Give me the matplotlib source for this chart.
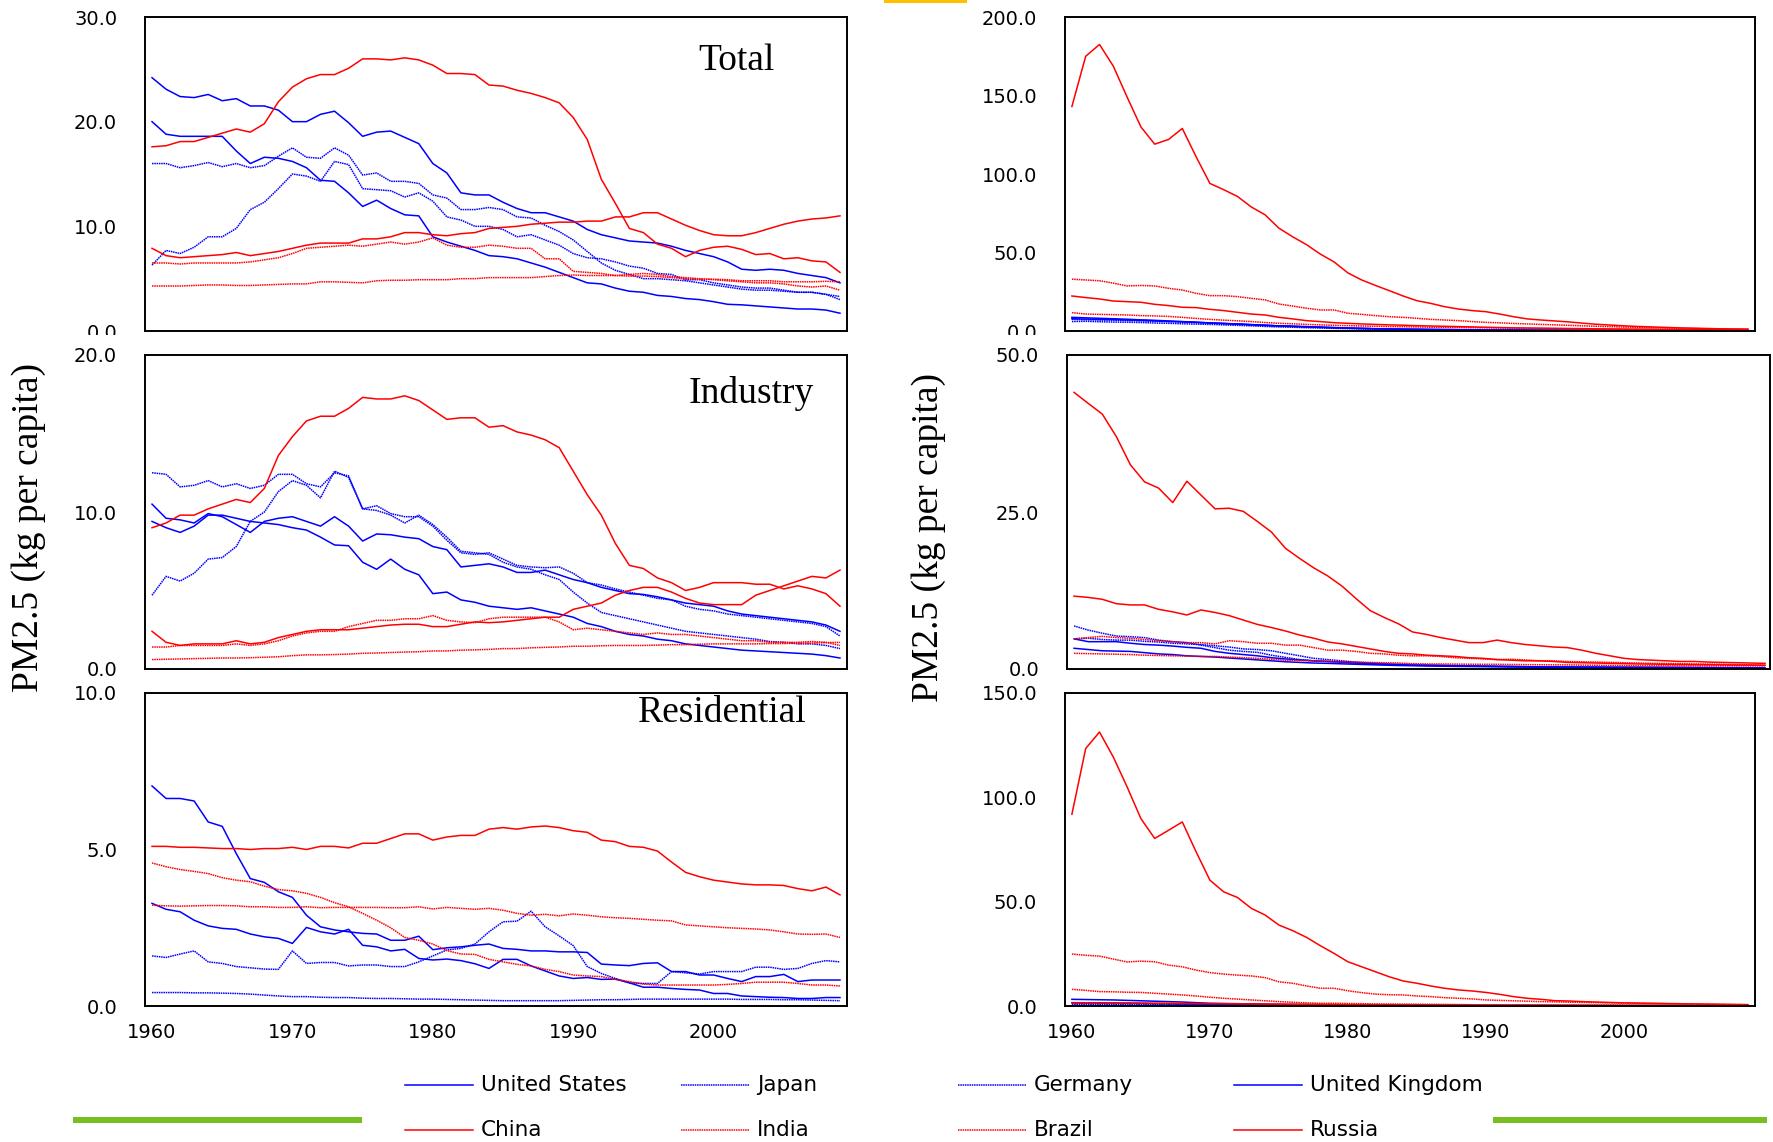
import numpy as np
import matplotlib
matplotlib.use("Agg")
import matplotlib.pyplot as plt
from matplotlib.lines import Line2D
from matplotlib.patches import Rectangle

years = np.arange(1960, 2010)

countries = ["United States", "Japan", "Germany", "United Kingdom",
             "China", "India", "Brazil", "Russia"]

# ---------------- left column: per-capita emissions ----------------
us_total = [24.2, 23.1, 22.4, 22.3, 22.6, 22.0, 22.2, 21.5, 21.5, 21.1,
            20.0, 20.0, 20.7, 21.0, 19.9, 18.6, 19.0, 19.1, 18.5, 17.9,
            16.0, 15.1, 13.2, 13.0, 13.0, 12.3, 11.7, 11.3, 11.3, 10.9,
            10.5, 9.7, 9.2, 8.9, 8.6, 8.5, 8.4, 8.1, 7.7, 7.4,
            7.1, 6.6, 5.9, 5.8, 5.9, 5.8, 5.5, 5.3, 5.1, 4.6]
jp_total = [6.3, 7.7, 7.4, 8.0, 9.0, 9.0, 9.8, 11.6, 12.3, 13.6,
            15.0, 14.8, 14.3, 16.2, 15.9, 13.6, 13.5, 13.4, 12.8, 13.2,
            12.4, 10.9, 10.6, 10.0, 10.0, 9.7, 9.0, 9.2, 8.7, 8.2,
            7.4, 7.0, 6.9, 6.6, 6.2, 6.0, 5.5, 5.4, 4.9, 4.9,
            4.6, 4.4, 4.2, 4.1, 4.1, 3.9, 3.7, 3.7, 3.5, 3.3]
de_total = [16.0, 16.0, 15.6, 15.8, 16.1, 15.7, 16.0, 15.6, 15.8, 16.7,
            17.5, 16.6, 16.5, 17.5, 16.8, 14.9, 15.1, 14.3, 14.3, 14.1,
            13.0, 12.7, 11.6, 11.6, 11.8, 11.6, 10.9, 10.8, 10.1, 9.5,
            8.7, 7.6, 6.5, 5.8, 5.4, 5.0, 5.0, 4.9, 4.8, 4.6,
            4.4, 4.2, 4.0, 3.9, 3.9, 3.8, 3.7, 3.7, 3.5, 3.0]
uk_total = [20.0, 18.8, 18.6, 18.6, 18.6, 18.6, 17.2, 16.0, 16.6, 16.5,
            16.2, 15.6, 14.4, 14.3, 13.2, 11.9, 12.5, 11.7, 11.1, 11.0,
            9.0, 8.5, 8.1, 7.7, 7.2, 7.1, 6.9, 6.5, 6.1, 5.6,
            5.1, 4.6, 4.5, 4.1, 3.8, 3.7, 3.4, 3.3, 3.1, 3.0,
            2.8, 2.55, 2.5, 2.4, 2.3, 2.2, 2.1, 2.1, 2.0, 1.7]
cn_total = [7.9, 7.2, 7.0, 7.1, 7.2, 7.3, 7.5, 7.2, 7.4, 7.6,
            7.9, 8.2, 8.4, 8.4, 8.4, 8.8, 8.8, 9.0, 9.4, 9.4,
            9.2, 9.1, 9.3, 9.4, 9.8, 9.9, 10.0, 10.2, 10.3, 10.4,
            10.4, 10.5, 10.5, 10.9, 10.9, 11.3, 11.3, 10.7, 10.1, 9.6,
            9.2, 9.1, 9.1, 9.4, 9.8, 10.2, 10.5, 10.7, 10.8, 11.0]
in_total = [4.3, 4.3, 4.3, 4.35, 4.4, 4.4, 4.35, 4.35, 4.4, 4.45,
            4.5, 4.5, 4.7, 4.7, 4.65, 4.6, 4.8, 4.85, 4.85, 4.9,
            4.9, 4.9, 5.0, 5.0, 5.1, 5.1, 5.1, 5.1, 5.2, 5.3,
            5.35, 5.3, 5.3, 5.3, 5.25, 5.25, 5.2, 5.1, 5.0, 4.95,
            4.95, 4.9, 4.8, 4.8, 4.8, 4.7, 4.7, 4.7, 4.75, 4.7]
br_total = [6.5, 6.5, 6.4, 6.5, 6.5, 6.5, 6.5, 6.6, 6.8, 7.0,
            7.4, 7.9, 8.0, 8.1, 8.2, 8.1, 8.3, 8.5, 8.3, 8.5,
            8.9, 8.2, 8.0, 8.0, 8.2, 8.1, 7.9, 7.9, 6.9, 6.9,
            5.7, 5.6, 5.5, 5.3, 5.4, 5.5, 5.4, 5.2, 5.1, 5.0,
            4.9, 4.8, 4.7, 4.6, 4.6, 4.5, 4.3, 4.2, 4.3, 3.9]
ru_total = [17.6, 17.7, 18.1, 18.1, 18.5, 18.9, 19.3, 19.0, 19.8, 21.9,
            23.3, 24.1, 24.5, 24.5, 25.1, 26.0, 26.0, 25.9, 26.1, 25.9,
            25.4, 24.6, 24.6, 24.5, 23.5, 23.4, 23.0, 22.7, 22.3, 21.8,
            20.4, 18.3, 14.5, 12.2, 9.8, 9.4, 8.3, 7.9, 7.1, 7.7,
            8.0, 8.1, 7.8, 7.3, 7.4, 6.9, 7.0, 6.7, 6.6, 5.6]

us_ind = [10.5, 9.6, 9.5, 9.3, 9.9, 9.7, 9.2, 8.7, 9.4, 9.6,
          9.7, 9.4, 9.1, 9.7, 9.1, 8.15, 8.6, 8.55, 8.4, 8.3,
          7.8, 7.6, 6.5, 6.6, 6.7, 6.5, 6.15, 6.15, 6.3, 6.0,
          5.7, 5.5, 5.2, 5.0, 4.8, 4.75, 4.6, 4.4, 4.2, 4.1,
          4.0, 3.7, 3.5, 3.4, 3.3, 3.2, 3.1, 3.0, 2.8, 2.4]
jp_ind = [4.7, 5.9, 5.6, 6.1, 7.0, 7.1, 7.8, 9.4, 10.0, 11.3,
          12.0, 11.7, 10.9, 12.6, 12.2, 10.2, 10.1, 9.8, 9.3, 9.8,
          9.2, 8.4, 7.5, 7.4, 7.3, 6.8, 6.5, 6.35, 6.0, 5.7,
          4.9, 4.2, 3.6, 3.4, 3.2, 3.0, 2.8, 2.6, 2.4, 2.3,
          2.2, 2.1, 2.0, 1.9, 1.75, 1.7, 1.6, 1.6, 1.5, 1.3]
de_ind = [12.5, 12.4, 11.6, 11.7, 12.0, 11.6, 11.8, 11.5, 11.7, 12.4,
          12.4, 11.8, 11.6, 12.5, 12.3, 10.2, 10.4, 9.9, 9.7, 9.7,
          9.1, 8.2, 7.4, 7.3, 7.4, 7.0, 6.6, 6.5, 6.45, 6.5,
          6.1, 5.5, 5.35, 5.1, 4.9, 4.7, 4.5, 4.4, 4.0, 3.8,
          3.7, 3.5, 3.4, 3.3, 3.2, 3.1, 3.0, 2.9, 2.7, 2.1]
uk_ind = [9.4, 9.0, 8.7, 9.1, 9.8, 9.8, 9.6, 9.4, 9.3, 9.2,
          9.0, 8.85, 8.4, 7.9, 7.85, 6.8, 6.35, 7.0, 6.35, 6.0,
          4.8, 4.9, 4.4, 4.25, 4.0, 3.9, 3.8, 3.9, 3.7, 3.5,
          3.3, 2.9, 2.7, 2.4, 2.2, 2.1, 1.9, 1.8, 1.6, 1.5,
          1.4, 1.3, 1.2, 1.15, 1.1, 1.05, 1.0, 0.95, 0.85, 0.7]
cn_ind = [2.4, 1.7, 1.5, 1.6, 1.6, 1.6, 1.8, 1.6, 1.7, 2.0,
          2.2, 2.4, 2.5, 2.5, 2.5, 2.6, 2.7, 2.8, 2.85, 2.85,
          2.7, 2.7, 2.85, 3.0, 2.95, 3.0, 3.1, 3.2, 3.3, 3.3,
          3.8, 4.0, 4.2, 4.7, 5.0, 5.2, 5.2, 4.9, 4.5, 4.2,
          4.1, 4.1, 4.1, 4.7, 5.0, 5.3, 5.6, 5.9, 5.8, 6.3]
in_ind = [0.6, 0.62, 0.64, 0.66, 0.68, 0.7, 0.7, 0.72, 0.75, 0.78,
          0.85, 0.9, 0.9, 0.92, 0.95, 1.0, 1.02, 1.05, 1.08, 1.1,
          1.15, 1.15, 1.2, 1.22, 1.25, 1.3, 1.3, 1.35, 1.38, 1.4,
          1.45, 1.45, 1.48, 1.5, 1.5, 1.5, 1.52, 1.55, 1.55, 1.58,
          1.6, 1.6, 1.6, 1.6, 1.62, 1.62, 1.65, 1.65, 1.68, 1.7]
br_ind = [1.4, 1.4, 1.5, 1.5, 1.5, 1.5, 1.6, 1.5, 1.6, 1.8,
          2.1, 2.3, 2.4, 2.4, 2.7, 2.9, 3.1, 3.1, 3.2, 3.2,
          3.4, 3.1, 3.0, 2.95, 3.2, 3.3, 3.3, 3.3, 3.3, 3.0,
          2.5, 2.6, 2.5, 2.4, 2.3, 2.2, 2.3, 2.2, 2.2, 2.1,
          2.0, 1.9, 1.8, 1.8, 1.7, 1.7, 1.7, 1.75, 1.7, 1.5]
ru_ind = [9.0, 9.3, 9.8, 9.8, 10.2, 10.5, 10.8, 10.6, 11.5, 13.6,
          14.8, 15.8, 16.1, 16.1, 16.6, 17.3, 17.2, 17.2, 17.4, 17.1,
          16.5, 15.9, 16.0, 16.0, 15.4, 15.5, 15.1, 14.9, 14.6, 14.1,
          12.6, 11.1, 9.8, 8.0, 6.6, 6.4, 5.8, 5.5, 5.0, 5.2,
          5.5, 5.5, 5.5, 5.4, 5.4, 5.1, 5.3, 5.1, 4.8, 4.0]

us_res = [7.03, 6.63, 6.63, 6.55, 5.88, 5.74, 4.87, 4.07, 3.95, 3.65,
          3.47, 2.9, 2.53, 2.43, 2.37, 2.32, 2.3, 2.1, 2.1, 2.23,
          1.8, 1.86, 1.89, 1.94, 1.98, 1.84, 1.81, 1.76, 1.76, 1.73,
          1.73, 1.71, 1.34, 1.31, 1.29, 1.36, 1.38, 1.1, 1.1, 0.99,
          0.99, 0.88, 0.78, 0.94, 0.94, 1.01, 0.78, 0.83, 0.83, 0.83]
jp_res = [1.6, 1.55, 1.66, 1.76, 1.41, 1.36, 1.26, 1.22, 1.18, 1.17,
          1.76, 1.36, 1.39, 1.39, 1.28, 1.31, 1.31, 1.26, 1.26, 1.41,
          1.6, 1.79, 1.84, 1.98, 2.37, 2.69, 2.71, 3.03, 2.53, 2.24,
          1.93, 1.26, 1.04, 0.88, 0.74, 0.72, 0.72, 1.1, 1.06, 1.02,
          1.1, 1.1, 1.1, 1.24, 1.24, 1.17, 1.2, 1.36, 1.45, 1.41]
de_res = [0.43, 0.43, 0.43, 0.42, 0.42, 0.41, 0.4, 0.38, 0.35, 0.32,
          0.3, 0.3, 0.28, 0.27, 0.27, 0.25, 0.24, 0.24, 0.23, 0.22,
          0.22, 0.21, 0.2, 0.19, 0.18, 0.17, 0.17, 0.17, 0.17, 0.17,
          0.18, 0.19, 0.2, 0.2, 0.21, 0.22, 0.22, 0.22, 0.22, 0.22,
          0.22, 0.22, 0.21, 0.21, 0.21, 0.2, 0.2, 0.19, 0.18, 0.17]
uk_res = [3.28, 3.09, 3.01, 2.74, 2.56, 2.48, 2.45, 2.3, 2.21, 2.16,
          2.0, 2.51, 2.37, 2.3, 2.45, 1.94, 1.89, 1.76, 1.81, 1.52,
          1.47, 1.5, 1.45, 1.35, 1.2, 1.49, 1.49, 1.28, 1.12, 0.96,
          0.88, 0.91, 0.85, 0.86, 0.74, 0.6, 0.6, 0.56, 0.53, 0.51,
          0.4, 0.4, 0.32, 0.3, 0.28, 0.27, 0.24, 0.24, 0.27, 0.27]
cn_res = [5.1, 5.1, 5.07, 5.07, 5.05, 5.03, 5.03, 5.0, 5.03, 5.03,
          5.07, 5.0, 5.1, 5.1, 5.05, 5.2, 5.2, 5.35, 5.5, 5.5,
          5.3, 5.4, 5.45, 5.45, 5.65, 5.7, 5.65, 5.72, 5.75, 5.7,
          5.6, 5.55, 5.3, 5.25, 5.1, 5.07, 4.95, 4.6, 4.27, 4.13,
          4.02, 3.96, 3.9, 3.87, 3.87, 3.85, 3.75, 3.68, 3.8, 3.55]
in_res = [3.22, 3.2, 3.19, 3.2, 3.21, 3.21, 3.2, 3.17, 3.17, 3.15,
          3.15, 3.17, 3.14, 3.15, 3.15, 3.15, 3.15, 3.14, 3.14, 3.17,
          3.1, 3.15, 3.12, 3.09, 3.12, 3.06, 2.96, 2.9, 2.93, 2.88,
          2.94, 2.9, 2.85, 2.82, 2.8, 2.77, 2.74, 2.72, 2.59, 2.56,
          2.53, 2.5, 2.48, 2.46, 2.43, 2.37, 2.3, 2.29, 2.3, 2.19]
br_res = [4.57, 4.45, 4.36, 4.3, 4.23, 4.1, 4.02, 3.97, 3.83, 3.72,
          3.68, 3.6, 3.47, 3.3, 3.17, 2.96, 2.74, 2.5, 2.19, 2.1,
          1.98, 1.77, 1.66, 1.65, 1.49, 1.41, 1.33, 1.28, 1.17, 1.1,
          0.99, 0.96, 0.94, 0.85, 0.78, 0.7, 0.67, 0.67, 0.67, 0.67,
          0.67, 0.69, 0.72, 0.76, 0.76, 0.76, 0.72, 0.67, 0.67, 0.64]
ru_res = None

# ---------------- right column ----------------
us_total_r = [8.7, 8.4, 8.1, 7.8, 7.5, 7.1, 6.8, 6.4, 6.0, 5.6,
              5.2, 4.8, 4.4, 4.0, 3.6, 3.2, 2.9, 2.6, 2.3, 2.0,
              1.8, 1.6, 1.4, 1.2, 1.1, 1.0, 0.9, 0.85, 0.8, 0.75,
              0.7, 0.65, 0.6, 0.55, 0.5, 0.48, 0.45, 0.42, 0.4, 0.38,
              0.36, 0.34, 0.32, 0.3, 0.28, 0.27, 0.26, 0.25, 0.24, 0.22]
jp_total_r = [6.0, 6.2, 5.9, 5.7, 5.6, 5.4, 5.1, 4.9, 4.6, 4.4,
              4.2, 3.9, 3.6, 3.3, 2.9, 2.6, 2.4, 2.1, 1.9, 1.7,
              1.5, 1.3, 1.15, 1.0, 0.9, 0.85, 0.8, 0.75, 0.7, 0.65,
              0.6, 0.55, 0.5, 0.48, 0.45, 0.42, 0.4, 0.38, 0.36, 0.34,
              0.32, 0.3, 0.29, 0.28, 0.27, 0.26, 0.25, 0.24, 0.23, 0.21]
de_total_r = [7.4, 7.2, 7.0, 6.9, 6.6, 6.4, 6.2, 6.0, 5.7, 5.4,
              5.0, 4.7, 4.3, 3.9, 3.6, 3.2, 2.9, 2.6, 2.4, 2.1,
              1.8, 1.6, 1.4, 1.25, 1.1, 1.0, 0.95, 0.9, 0.8, 0.75,
              0.65, 0.55, 0.5, 0.45, 0.42, 0.4, 0.38, 0.35, 0.33, 0.31,
              0.3, 0.28, 0.27, 0.26, 0.25, 0.24, 0.23, 0.22, 0.21, 0.19]
uk_total_r = [7.8, 7.6, 7.4, 7.3, 7.0, 6.8, 6.5, 6.1, 5.9, 5.5,
              5.1, 4.8, 4.5, 4.1, 3.7, 3.3, 3.1, 2.8, 2.5, 2.2,
              1.9, 1.7, 1.5, 1.3, 1.2, 1.1, 1.0, 0.9, 0.85, 0.8,
              0.7, 0.6, 0.55, 0.5, 0.45, 0.42, 0.4, 0.37, 0.35, 0.33,
              0.3, 0.28, 0.26, 0.25, 0.24, 0.22, 0.21, 0.2, 0.19, 0.17]
cn_total_r = [22.3, 21.3, 20.4, 19.1, 18.7, 18.3, 17.0, 16.2, 15.1, 14.9,
              13.8, 13.0, 11.9, 10.8, 10.2, 8.7, 7.7, 6.6, 6.0, 5.3,
              4.9, 4.5, 4.2, 3.9, 3.7, 3.4, 3.2, 3.0, 2.8, 2.6,
              2.4, 2.2, 2.0, 1.9, 1.8, 1.7, 1.6, 1.5, 1.4, 1.3,
              1.2, 1.1, 1.0, 0.9, 0.85, 0.8, 0.75, 0.7, 0.6, 0.5]
in_total_r = [33.0, 32.5, 32.0, 30.5, 28.7, 29.0, 28.7, 27.2, 26.1, 24.0,
              22.5, 22.5, 21.9, 20.8, 19.8, 17.2, 15.9, 14.5, 13.4, 13.4,
              11.3, 10.6, 9.8, 9.1, 8.7, 8.1, 7.4, 7.0, 6.6, 6.0,
              5.5, 5.2, 4.8, 4.5, 4.2, 3.9, 3.6, 3.3, 3.0, 2.8,
              2.5, 2.3, 2.1, 1.9, 1.7, 1.6, 1.4, 1.3, 1.2, 1.1]
br_total_r = [11.7, 10.8, 10.6, 10.4, 10.2, 9.8, 9.6, 9.3, 8.7, 8.0,
              7.4, 6.9, 6.5, 6.0, 5.4, 4.9, 4.6, 4.2, 3.9, 3.6,
              3.4, 3.2, 3.0, 2.8, 2.7, 2.6, 2.4, 2.3, 2.2, 2.1,
              2.0, 1.9, 1.8, 1.7, 1.6, 1.5, 1.4, 1.3, 1.25, 1.2,
              1.1, 1.05, 1.0, 0.95, 0.9, 0.8, 0.75, 0.7, 0.65, 0.6]
ru_total_r = [143.0, 175.0, 182.5, 168.7, 149.0, 130.0, 119.0, 122.0, 129.0, 111.0,
              94.0, 90.0, 85.7, 79.0, 74.0, 65.5, 60.0, 55.0, 49.0, 44.0,
              37.0, 32.5, 29.0, 25.7, 22.3, 19.3, 17.6, 15.5, 14.0, 13.0,
              12.3, 10.8, 9.1, 7.7, 7.0, 6.4, 5.8, 5.0, 4.3, 3.8,
              3.3, 2.9, 2.6, 2.3, 2.0, 1.8, 1.6, 1.4, 1.3, 1.2]

us_ind_r = [4.8, 4.35, 4.35, 4.35, 4.1, 3.9, 3.8, 3.65, 3.45, 3.3,
            2.8, 2.5, 2.3, 2.1, 1.8, 1.6, 1.45, 1.3, 1.2, 1.1,
            0.95, 0.85, 0.75, 0.68, 0.62, 0.58, 0.55, 0.5, 0.47, 0.45,
            0.42, 0.4, 0.37, 0.35, 0.33, 0.31, 0.3, 0.29, 0.28, 0.27,
            0.26, 0.25, 0.24, 0.23, 0.22, 0.21, 0.2, 0.2, 0.19, 0.18]
jp_ind_r = [4.8, 4.9, 4.7, 4.6, 4.6, 4.4, 4.3, 4.1, 4.0, 3.9,
            3.7, 3.5, 3.2, 3.1, 2.9, 2.5, 2.1, 1.7, 1.5, 1.3,
            1.1, 0.95, 0.85, 0.75, 0.7, 0.65, 0.6, 0.55, 0.5, 0.47,
            0.44, 0.4, 0.37, 0.35, 0.33, 0.31, 0.3, 0.29, 0.28, 0.27,
            0.26, 0.25, 0.24, 0.23, 0.22, 0.21, 0.2, 0.2, 0.19, 0.18]
de_ind_r = [6.85, 6.2, 5.7, 5.25, 5.15, 5.0, 4.6, 4.35, 4.2, 3.8,
            3.4, 3.0, 2.8, 2.65, 2.2, 1.85, 1.5, 1.3, 1.2, 1.05,
            0.9, 0.8, 0.72, 0.65, 0.6, 0.55, 0.5, 0.48, 0.45, 0.42,
            0.4, 0.38, 0.35, 0.33, 0.31, 0.3, 0.29, 0.28, 0.27, 0.26,
            0.25, 0.24, 0.23, 0.23, 0.22, 0.22, 0.21, 0.21, 0.2, 0.2]
uk_ind_r = [3.3, 3.1, 2.9, 2.85, 2.8, 2.6, 2.4, 2.3, 2.1, 2.0,
            1.9, 1.75, 1.6, 1.45, 1.3, 1.15, 1.05, 0.95, 0.9, 0.82,
            0.75, 0.68, 0.62, 0.56, 0.52, 0.48, 0.45, 0.42, 0.4, 0.38,
            0.36, 0.33, 0.3, 0.28, 0.26, 0.24, 0.22, 0.21, 0.2, 0.19,
            0.18, 0.16, 0.15, 0.14, 0.13, 0.12, 0.12, 0.11, 0.1, 0.1]
cn_ind_r = [11.6, 11.4, 11.1, 10.4, 10.2, 10.2, 9.5, 9.1, 8.6, 9.4,
            9.0, 8.5, 7.8, 7.1, 6.6, 6.05, 5.4, 4.9, 4.3, 4.0,
            3.6, 3.2, 2.8, 2.5, 2.4, 2.2, 2.1, 2.0, 1.8, 1.7,
            1.5, 1.4, 1.3, 1.3, 1.2, 1.05, 1.0, 0.95, 0.9, 0.85,
            0.8, 0.78, 0.75, 0.72, 0.7, 0.68, 0.65, 0.63, 0.62, 0.6]
in_ind_r = [4.8, 5.0, 5.2, 5.0, 4.9, 4.7, 4.5, 4.35, 4.2, 4.2,
            4.0, 4.5, 4.35, 4.1, 4.1, 3.8, 3.8, 3.4, 3.0, 3.0,
            2.8, 2.5, 2.4, 2.2, 2.1, 2.1, 2.0, 1.8, 1.7, 1.6,
            1.5, 1.55, 1.45, 1.3, 1.3, 1.2, 1.15, 1.1, 1.05, 1.0,
            0.95, 0.9, 0.88, 0.85, 0.8, 0.78, 0.75, 0.7, 0.65, 0.6]
br_ind_r = [2.5, 2.45, 2.4, 2.35, 2.3, 2.2, 2.15, 2.1, 2.05, 2.0,
            2.0, 1.9, 1.8, 1.7, 1.55, 1.4, 1.35, 1.3, 1.2, 1.15,
            1.1, 1.05, 1.0, 0.95, 0.85, 0.8, 0.8, 0.78, 0.76, 0.75,
            0.75, 0.72, 0.7, 0.68, 0.66, 0.65, 0.62, 0.6, 0.56, 0.53,
            0.5, 0.5, 0.5, 0.5, 0.5, 0.5, 0.5, 0.5, 0.5, 0.5]
ru_ind_r = [44.05, 42.3, 40.6, 37.0, 32.5, 29.8, 28.8, 26.5, 29.9, 27.7,
            25.5, 25.6, 25.1, 23.5, 21.8, 19.2, 17.6, 16.1, 14.8, 13.2,
            11.2, 9.3, 8.2, 7.2, 5.9, 5.5, 5.0, 4.6, 4.2, 4.2,
            4.6, 4.2, 3.9, 3.7, 3.5, 3.4, 3.0, 2.5, 2.1, 1.7,
            1.5, 1.4, 1.3, 1.2, 1.2, 1.1, 1.05, 1.0, 0.95, 0.9]

us_res_r = [3.2, 3.1, 3.0, 2.9, 2.7, 2.5, 2.3, 2.1, 1.9, 1.6,
            1.3, 1.2, 1.1, 1.0, 0.9, 0.8, 0.75, 0.7, 0.65, 0.6,
            0.55, 0.5, 0.48, 0.45, 0.42, 0.4, 0.38, 0.36, 0.34, 0.32,
            0.3, 0.29, 0.28, 0.27, 0.26, 0.25, 0.24, 0.23, 0.22, 0.21,
            0.2, 0.2, 0.19, 0.19, 0.18, 0.17, 0.17, 0.16, 0.16, 0.15]
jp_res_r = [1.2, 1.15, 1.1, 1.05, 1.0, 0.95, 0.9, 0.85, 0.8, 0.75,
            0.7, 0.65, 0.6, 0.55, 0.5, 0.45, 0.42, 0.4, 0.38, 0.36,
            0.34, 0.32, 0.3, 0.29, 0.28, 0.27, 0.26, 0.25, 0.24, 0.23,
            0.22, 0.21, 0.2, 0.19, 0.18, 0.17, 0.16, 0.15, 0.14, 0.13,
            0.12, 0.12, 0.11, 0.11, 0.1, 0.1, 0.1, 0.1, 0.1, 0.1]
de_res_r = [0.8, 0.78, 0.76, 0.74, 0.72, 0.7, 0.66, 0.62, 0.58, 0.54,
            0.5, 0.46, 0.42, 0.38, 0.35, 0.32, 0.3, 0.28, 0.26, 0.24,
            0.22, 0.2, 0.19, 0.18, 0.17, 0.16, 0.15, 0.14, 0.13, 0.12,
            0.12, 0.11, 0.11, 0.1, 0.1, 0.1, 0.09, 0.09, 0.09, 0.08,
            0.08, 0.08, 0.08, 0.07, 0.07, 0.07, 0.07, 0.07, 0.06, 0.06]
uk_res_r = [1.6, 1.55, 1.5, 1.45, 1.4, 1.3, 1.2, 1.1, 1.0, 0.9,
            0.8, 0.72, 0.65, 0.6, 0.55, 0.5, 0.46, 0.42, 0.39, 0.36,
            0.33, 0.3, 0.28, 0.26, 0.24, 0.22, 0.21, 0.2, 0.19, 0.18,
            0.17, 0.16, 0.15, 0.14, 0.13, 0.12, 0.11, 0.1, 0.1, 0.09,
            0.09, 0.08, 0.08, 0.08, 0.07, 0.07, 0.07, 0.06, 0.06, 0.06]
cn_res_r = [1.5, 1.5, 1.45, 1.4, 1.4, 1.35, 1.3, 1.3, 1.25, 1.2,
            1.15, 1.1, 1.05, 1.0, 0.95, 0.9, 0.85, 0.8, 0.75, 0.7,
            0.66, 0.62, 0.58, 0.55, 0.52, 0.5, 0.48, 0.46, 0.44, 0.42,
            0.4, 0.38, 0.36, 0.34, 0.33, 0.32, 0.31, 0.3, 0.29, 0.28,
            0.27, 0.26, 0.25, 0.24, 0.23, 0.22, 0.22, 0.21, 0.2, 0.2]
in_res_r = [24.9, 24.3, 23.9, 22.5, 21.1, 21.5, 21.2, 19.6, 18.8, 17.2,
            16.0, 15.3, 14.8, 14.4, 13.6, 11.6, 10.9, 9.6, 8.5, 8.5,
            7.3, 6.4, 5.7, 5.4, 5.3, 4.8, 4.5, 4.0, 3.7, 3.4,
            2.9, 2.7, 2.5, 2.3, 2.1, 2.0, 1.8, 1.7, 1.6, 1.5,
            1.4, 1.3, 1.2, 1.1, 1.0, 0.95, 0.9, 0.8, 0.75, 0.7]
br_res_r = [8.0, 7.5, 6.9, 6.8, 6.6, 6.5, 6.1, 5.7, 5.3, 4.8,
            4.2, 3.7, 3.3, 2.9, 2.5, 2.1, 1.8, 1.5, 1.3, 1.3,
            1.2, 1.1, 1.0, 0.95, 0.9, 0.85, 0.8, 0.75, 0.7, 0.6,
            0.5, 0.5, 0.48, 0.46, 0.44, 0.42, 0.4, 0.4, 0.38, 0.37,
            0.36, 0.35, 0.34, 0.33, 0.32, 0.31, 0.3, 0.3, 0.3, 0.3]
ru_res_r = [91.9, 123.4, 131.3, 119.3, 105.0, 89.8, 80.3, 84.2, 88.2, 73.9,
            60.3, 54.7, 52.0, 46.8, 43.6, 38.8, 36.1, 32.9, 28.9, 25.2,
            21.2, 18.8, 16.4, 14.0, 12.0, 10.9, 9.6, 8.5, 7.7, 7.2,
            6.5, 5.6, 4.5, 3.7, 3.2, 2.55, 2.4, 2.1, 1.9, 1.7,
            1.5, 1.4, 1.3, 1.2, 1.1, 1.0, 0.9, 0.8, 0.7, 0.6]

# panel titles and y-axis ticks
sector_titles = ["Total", "Industry", "Residential"]
left_yticks = [[0, 10, 20, 30], [0, 10, 20], [0, 5, 10]]
right_yticks = [[0, 50, 100, 150, 200], [0, 25, 50], [0, 50, 100, 150]]
xticks = [1960, 1970, 1980, 1990, 2000]

left_series = [
    [us_total, jp_total, de_total, uk_total, cn_total, in_total, br_total, ru_total],
    [us_ind, jp_ind, de_ind, uk_ind, cn_ind, in_ind, br_ind, ru_ind],
    [us_res, jp_res, de_res, uk_res, cn_res, in_res, br_res, ru_res],
]
right_series = [
    [us_total_r, jp_total_r, de_total_r, uk_total_r, cn_total_r, in_total_r, br_total_r, ru_total_r],
    [us_ind_r, jp_ind_r, de_ind_r, uk_ind_r, cn_ind_r, in_ind_r, br_ind_r, ru_ind_r],
    [us_res_r, jp_res_r, de_res_r, uk_res_r, cn_res_r, in_res_r, br_res_r, ru_res_r],
]

BLUE, RED = "#0000ff", "#ff0000"
DOT = (0, (1.0, 0.5))
styles = {
    "United States": (BLUE, "-"), "Japan": (BLUE, DOT),
    "Germany": (BLUE, DOT), "United Kingdom": (BLUE, "-"),
    "China": (RED, "-"), "India": (RED, DOT),
    "Brazil": (RED, DOT), "Russia": (RED, "-"),
}
LW = 1.1

W, H = 1773, 1142
fig = plt.figure(figsize=(W / 100, H / 100), dpi=100)


def px_rect(x0, y0, x1, y1):
    """Figure-fraction rectangle from pixel corners (origin top-left)."""
    return [x0 / W, 1 - y1 / H, (x1 - x0) / W, (y1 - y0) / H]


rows_px = [(17, 331), (355, 669), (693, 1006)]
left_x = (145, 847)
right_x = [(1065, 1755), (1067, 1770), (1065, 1755)]
title_pos = [(0.897, 0.831), (0.953, 0.847), (0.942, 0.907)]

tick_font = dict(family="DejaVu Sans", size=14)


def style_axes(ax, yticks, show_x):
    ax.set_xlim(1959.5, 2009.5)
    ax.set_ylim(yticks[0], yticks[-1])
    ax.set_yticks(yticks)
    ax.set_yticklabels([f"{v:.1f}" for v in yticks], **tick_font)
    if show_x:
        ax.set_xticks(xticks)
        ax.set_xticklabels([str(v) for v in xticks], **tick_font)
    else:
        ax.set_xticks([])
    ax.tick_params(axis="both", length=0)
    ax.tick_params(axis="y", pad=20)
    ax.tick_params(axis="x", pad=12)
    for sp in ax.spines.values():
        sp.set_linewidth(1.4)
        sp.set_color("black")


def draw_lines(ax, series):
    for name, vals in zip(countries, series):
        if vals is None:
            continue
        color, ls = styles[name]
        ax.plot(years, vals, color=color, linestyle=ls, lw=LW)


for r in range(3):
    y0, y1 = rows_px[r]
    axl = fig.add_axes(px_rect(left_x[0], y0, left_x[1], y1))
    draw_lines(axl, left_series[r])
    style_axes(axl, left_yticks[r], r == 2)
    tx, ty = title_pos[r]
    axl.text(tx, ty, sector_titles[r], transform=axl.transAxes, ha="right",
             va="baseline", family="Liberation Serif", fontsize=27)

    axr = fig.add_axes(px_rect(right_x[r][0], y0, right_x[r][1], y1))
    draw_lines(axr, right_series[r])
    style_axes(axr, right_yticks[r], r == 2)
    if r == 1:
        axr.set_xlim(1959.5, 2009.35)

# y-axis titles
ylab = dict(rotation=90, ha="center", va="center",
            family="Liberation Serif", fontsize=27)
fig.text(29 / W, 1 - 527 / H, "PM2.5 (kg per capita)", **ylab)
fig.text(929 / W, 1 - 537 / H, "PM2.5 (kg per capita)", **ylab)

# lower half of the top-row "0.0" labels is hidden behind a white band
for x0, x1 in [(50, 142), (955, 1062)]:
    fig.add_artist(Rectangle((x0 / W, 1 - 348 / H), (x1 - x0) / W, 13 / H,
                             transform=fig.transFigure, facecolor="white",
                             edgecolor="none", zorder=10))

# legend: two rows of four entries
col_x = [405, 681, 958, 1234]
row_y = [1085, 1130]
for i, name in enumerate(countries):
    color, ls = styles[name]
    xs = col_x[i % 4]
    yy = 1 - row_y[i // 4] / H
    fig.add_artist(Line2D([xs / W, (xs + 68) / W], [yy, yy],
                          transform=fig.transFigure, color=color,
                          linestyle=ls, lw=LW))
    fig.text((xs + 76) / W, yy, name, ha="left", va="center",
             family="DejaVu Sans", fontsize=15.5)

# decorative slide bars
fig.add_artist(Rectangle((884 / W, 1 - 3 / H), 83 / W, 3 / H,
                         transform=fig.transFigure, facecolor="#ffc000",
                         edgecolor="none"))
for x0, x1 in [(73, 362), (1493, 1767)]:
    fig.add_artist(Rectangle((x0 / W, 1 - 1123 / H), (x1 - x0) / W, 6 / H,
                             transform=fig.transFigure, facecolor="#78be20",
                             edgecolor="none"))

fig.savefig("out.png", dpi=100, facecolor="white")
